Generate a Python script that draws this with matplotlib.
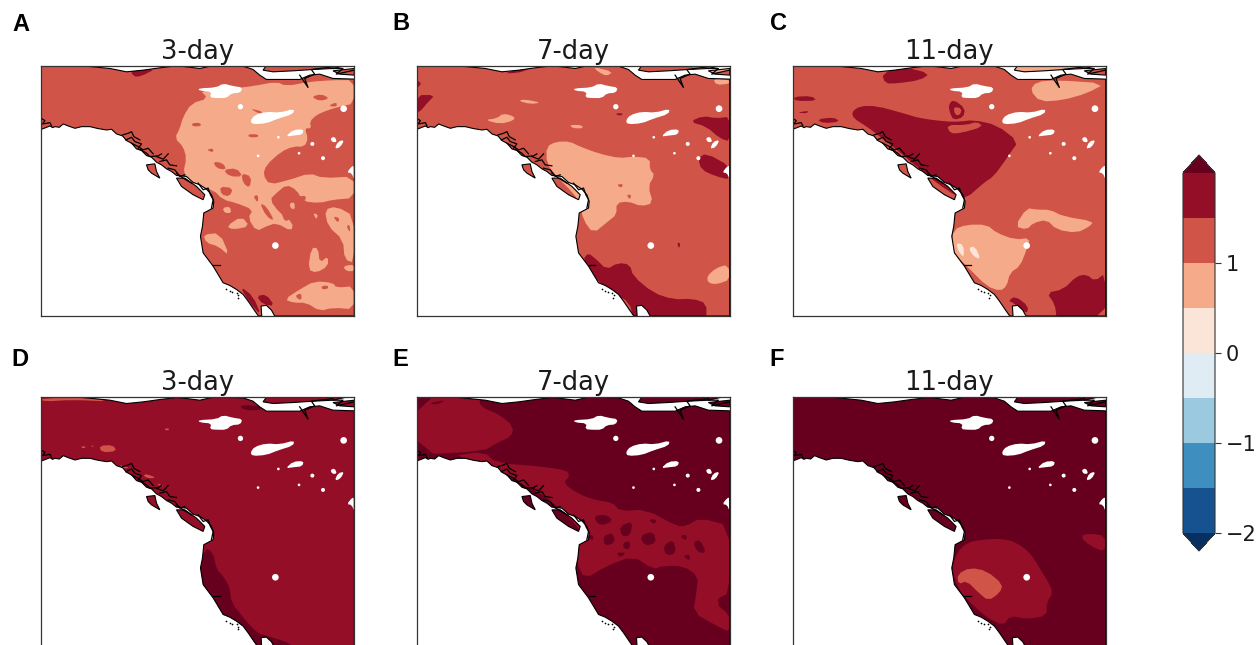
import numpy as np
import matplotlib
matplotlib.use("Agg")
import matplotlib.pyplot as plt
from matplotlib.colors import ListedColormap, BoundaryNorm, Normalize
from matplotlib.cm import ScalarMappable
from matplotlib.path import Path
from matplotlib.patches import PathPatch

# ---------- data (map coordinates) ----------
LEVELS = [-2, -1.5, -1, -0.5, 0, 0.5, 1, 1.5, 2]
CBAR_TICKS = [-2, -1, 0, 1]
TITLES = ["3-day", "7-day", "11-day", "3-day", "7-day", "11-day"]
LETTERS = ["A", "B", "C", "D", "E", "F"]

LAND = [(124,196),(124,388),(135,384),(150,378),(158,383),(165,380),(178,382),(190,372),(205,378),(225,385),(245,380),(270,380),
        (295,386),(320,390),(335,388),(350,402),(368,408),(380,422),(395,430),(410,447),(425,452),(440,467),(455,472),(470,487),(485,495),(500,507),
        (515,515),(530,527),(560,530),(580,548),(600,555),(620,568),(635,585),(642,605),
        (640,625),(612,640),(608,680),(602,710),(610,760),(625,780),(640,800),(655,825),(670,850),(690,858),(710,870),(730,885),(745,905),(762,930),
        (776,950),(786,950),(784,920),(800,918),(815,932),(825,950),(1064,950),(1064,237),(1000,235),(960,222),
        (930,225),(900,238),(800,238),(780,225),(760,208),(730,198),(640,196),(600,205),(560,200),(530,197),
        (480,203),(430,210),(380,215),(330,205),(280,200),(240,196)]
ARCTIC_ISLAND = [(800,196),(1040,196),(1000,205),(940,208),(880,212),(820,215),(790,210)]
NE_ISLAND = [(1000,212),(1064,205),(1064,225),(1020,222)]
HAIDA = [(440,495),(465,492),(470,515),(480,535),(455,520),(445,510)]
VANCOUVER = [(530,535),(555,535),(590,560),(615,585),(610,600),(580,585),(545,560)]
COAST_STROKES = [
    [(368,405),(385,400),(395,395),(402,410),(420,420)],
    [(378,420),(395,412),(405,425),(425,432),(415,445)],
    [(395,430),(415,440),(430,450),(445,445),(460,462)],
    [(420,448),(440,460),(450,470),(475,468),(485,462)],
    [(470,470),(490,478),(505,462)],
    [(480,485),(500,480),(510,495),(530,498)],
    [(505,505),(525,510),(540,530),(555,525)],
    [(530,520),(550,535),(575,550)],
    [(595,550),(610,570),(625,565),(632,585),(640,600),(635,625)],
    [(124,355),(135,362),(128,372),(150,368),(155,378)],
    [(900,225),(925,262),(915,235),(945,222),(935,208),(1000,200)],
    [(1000,205),(1030,205),(1010,222),(1064,210)],
    [(640,795),(660,795)],
]
CHANNEL_ISLANDS_X = [680,690,698,712,716,714]
CHANNEL_ISLANDS_Y = [870,875,878,880,888,895]

LAKES = [
    [(595,265),(650,262),(670,250),(700,258),(728,262),(722,278),(695,280),(680,294),(650,294),(630,292),(635,275),(600,272)],
    [(752,362),(765,345),(800,335),(840,338),(884,326),(880,342),(835,356),(800,370),(758,373)],
    [(858,410),(880,390),(912,388),(908,404),(880,407)],
    [(1005,447),(1015,425),(1034,420),(1022,442)],
    [(992,415),(1005,410),(1012,426),(998,427)],
    [(1042,518),(1056,500),(1064,498),(1064,540),(1056,520)],
]
SPOTS_X = [722,1032,827,938,970,898,775,836]
SPOTS_Y = [320,326,738,432,475,460,468,412]
SPOTS_R = [8,10,10,6,6,4,4,4]

PANEL_A = (1.25, [
    (0.75, [(600,270),(700,265),(760,258),(830,245),(860,258),(930,245),(1000,240),(1064,240),(1064,310),(1020,320),
            (985,330),(950,345),(930,365),(935,385),(915,385),(925,415),(915,440),(880,440),(845,455),(800,495),
            (790,525),(810,555),(870,540),(930,520),(970,535),(1064,530),(1064,595),(1000,600),(960,610),(910,605),
            (890,570),(860,555),(830,580),(810,600),(840,640),(880,670),(875,695),(830,670),(800,680),(770,695),
            (745,655),(760,630),(710,610),(670,600),(640,570),(575,555),(550,520),(560,475),(550,440),(525,415),
            (540,385),(550,350),(575,310),(625,295)]),
    (0.75, [(975,630),(1010,620),(1064,650),(1064,790),(1035,780),(1030,720),(985,680)]),
    (0.75, [(935,745),(955,745),(960,790),(985,770),(985,800),(950,820),(925,810)]),
    (0.75, [(855,900),(900,870),(945,845),(1000,850),(1010,865),(1064,860),(1064,930),(1000,925),(960,935),(920,910),(880,910)]),
    (0.75, [(610,705),(660,700),(690,770),(655,740),(620,730)]),
    (0.75, [(680,680),(725,650),(750,680),(700,690)]),
    (0.75, [(668,625),(690,620),(695,640),(675,640)]),
    (1.25, [(745,403),(775,403),(775,412),(748,412)]),
    (1.25, [(935,290),(965,282),(990,295),(960,303)]),
    (1.25, [(985,318),(1010,306),(1012,320)]),
    (1.25, [(750,325),(790,335),(780,342)]),
    (1.25, [(640,485),(670,490),(680,510),(650,505)]),
    (1.25, [(670,510),(710,505),(730,530),(690,530)]),
    (1.25, [(725,520),(755,530),(750,565),(730,550)]),
    (1.25, [(660,560),(700,565),(690,590),(665,585)]),
    (1.25, [(780,610),(800,620),(825,665),(800,650)]),
    (1.25, [(845,640),(860,630),(870,660),(855,665)]),
    (1.25, [(760,590),(775,585),(775,610)]),
    (1.25, [(895,590),(920,588),(915,605),(895,605)]),
    (1.25, [(575,370),(600,368),(605,378),(580,380)]),
    (1.25, [(620,450),(640,445),(640,458)]),
    (1.25, [(1000,650),(1020,655),(1015,670)]),
    (1.25, [(1040,680),(1050,675),(1052,700)]),
    (1.25, [(885,890),(905,880),(905,905)]),
    (1.25, [(965,860),(985,858),(985,868),(968,870)]),
    (0.75, [(900,575),(925,575),(925,582)]),
    (0.75, [(870,610),(885,608),(885,630),(872,625)]),
    (0.75, [(1030,800),(1064,795),(1064,815),(1040,815)]),
    (0.75, [(940,640),(955,645),(950,660)]),
    (1.75, [(390,205),(470,205),(420,230),(400,228)]),
    (1.75, [(770,890),(800,885),(825,920),(790,915)]),
    (1.75, [(720,860),(760,890),(785,950),(750,910)]),
])
PANEL_B = (1.25, [
    (0.75, [(440,350),(470,335),(510,335),(540,350),(600,372),(660,385),(700,380),(750,385),(750,420),(765,435),
            (745,470),(760,520),(725,530),(685,515),(650,520),(650,555),(625,575),(580,612),(550,570),(540,520),
            (520,490),(470,440),(440,400)]),
    (0.75, [(580,110),(640,125),(620,138),(595,125)]),
    (0.75, [(850,112),(992,112),(992,125),(900,130)]),
    (0.75, [(940,145),(992,150),(992,160),(950,165)]),
    (0.75, [(255,270),(290,265),(310,250),(345,260),(340,272),(300,282)]),
    (0.75, [(355,212),(375,208),(425,218),(390,222)]),
    (0.75, [(508,285),(545,285),(550,295),(520,295)]),
    (0.75, [(922,740),(950,715),(985,705),(992,750),(950,765),(925,760)]),
    (1.25, [(650,465),(670,462),(665,475)]),
    (1.25, [(680,495),(695,495),(690,510)]),
    (1.75, [(50,195),(105,195),(85,215),(60,245),(50,245)]),
    (1.75, [(50,150),(65,160),(50,175)]),
    (1.75, [(870,275),(910,258),(950,265),(992,260),(992,335),(960,325),(920,290)]),
    (1.75, [(895,385),(920,370),(992,410),(992,450),(950,440),(905,420)]),
    (1.75, [(565,670),(590,690),(620,720),(655,700),(690,705),(700,740),(760,790),(820,810),(880,808),(920,822),
            (920,870),(750,870),(700,870),(690,820),(640,790),(600,760),(565,720),(550,690)]),
    (1.75, [(315,128),(400,108),(370,125),(330,130)]),
    (1.75, [(645,250),(672,250),(660,258)]),
    (1.75, [(832,640),(842,640),(838,658)]),
])
PANEL_C = (1.25, [
    (1.75, [(245,245),(270,228),(320,228),(400,250),(450,265),(530,275),(570,275),(610,270),(680,285),(745,335),
            (720,370),(700,400),(670,440),(640,460),(590,505),(560,500),(500,460),(440,410),(380,360),(330,320),
            (290,290),(250,265)]),
    (1.25, [(530,285),(590,285),(620,275),(640,290),(570,310),(540,310)]),
    (1.75, [(335,130),(400,110),(480,130),(450,150),(380,160),(345,160)]),
    (1.75, [(70,200),(125,198),(140,212),(75,213)]),
    (1.75, [(80,248),(115,242),(110,250)]),
    (1.75, [(140,268),(190,262),(210,275),(160,280)]),
    (1.75, [(535,225),(550,208),(585,235),(580,262),(550,270),(540,250)]),
    (1.25, [(550,230),(575,235),(570,255),(555,255)]),
    (0.75, [(780,180),(800,155),(860,150),(1007,160),(950,190),(880,210),(810,215)]),
    (0.75, [(690,105),(940,105),(900,128),(760,128)]),
    (0.75, [(735,590),(770,535),(800,540),(840,540),(880,560),(970,575),(960,590),(920,610),(860,600),(830,570),(790,580),(770,600)]),
    (0.75, [(550,600),(590,585),(650,585),(680,610),(735,630),(780,625),(770,660),(750,710),(720,730),(710,770),
            (690,785),(650,770),(600,720),(560,680),(545,650)]),
    (0.25, [(558,640),(580,645),(582,685),(565,665)]),
    (0.25, [(595,655),(615,650),(632,690),(610,680)]),
    (1.75, [(830,790),(880,780),(920,740),(950,735),(975,755),(1007,730),(1007,870),(860,870),(855,825)]),
    (1.75, [(715,815),(735,800),(775,830),(770,855),(730,820)]),
])
PANEL_D = (1.75, [
    (2.25, [(615,625),(640,640),(650,690),(670,710),(690,745),(695,790),(730,835),(770,880),(800,890),(880,915),
            (870,940),(760,930),(720,880),(680,850),(640,790),(610,750),(600,700)]),
    (2.25, [(720,195),(790,200),(780,212),(730,210)]),
    (1.25, [(124,175),(270,174),(330,185),(220,180),(130,185)]),
    (1.25, [(298,318),(340,316),(350,335),(305,338)]),
    (1.25, [(245,320),(256,320),(256,325),(245,325)]),
    (1.25, [(272,318),(282,318),(280,322)]),
    (1.25, [(495,266),(508,266),(506,272),(496,271)]),
    (1.25, [(355,375),(390,385),(370,386)]),
    (1.25, [(440,403),(470,415),(445,416),(430,408)]),
    (1.25, [(470,430),(495,440),(480,440)]),
])
PANEL_E = (2.25, [
    (1.75, [(50,172),(240,172),(240,200),(300,225),(340,260),(335,290),(290,310),(250,335),(50,345)]),
    (2.25, [(85,190),(140,180),(110,195)]),
    (1.75, [(150,350),(250,335),(290,370),(420,380),(500,392),(510,410),(490,430),(530,460),(580,480),(640,490),
            (660,515),(740,510),(830,560),(860,560),(900,535),(992,560),(992,760),(945,790),(992,830),(992,880),
            (950,860),(880,820),(890,760),(895,710),(850,680),(790,680),(760,690),(700,650),(620,680),(555,720),
            (530,670),(535,600),(540,560),(400,440)]),
    (2.25, [(580,530),(620,525),(640,545),(600,560)]),
    (2.25, [(660,560),(700,545),(690,590),(665,590)]),
    (2.25, [(720,590),(760,575),(770,610),(735,620)]),
    (2.25, [(610,590),(640,580),(645,610),(615,620)]),
    (2.25, [(790,620),(820,600),(830,640),(800,650)]),
    (2.25, [(950,780),(992,760),(992,795),(965,795)]),
    (2.25, [(560,590),(580,585),(580,605)]),
    (2.25, [(670,610),(690,605),(690,630),(672,628)]),
    (2.25, [(650,640),(680,640),(660,655)]),
    (2.25, [(840,590),(860,585),(860,605)]),
    (2.25, [(880,610),(900,600),(920,640),(895,640)]),
    (2.25, [(745,540),(770,540),(765,555)]),
    (2.25, [(850,650),(870,645),(870,665)]),
])
PANEL_F = (2.25, [
    (1.75, [(560,640),(590,610),(640,600),(700,598),(740,610),(780,640),(805,680),(830,720),(850,760),(830,790),
            (830,830),(770,840),(720,830),(700,860),(650,835),(600,790),(565,750),(545,690)]),
    (1.75, [(930,590),(960,582),(1007,590),(1007,638),(960,620)]),
    (1.25, [(562,705),(600,685),(650,695),(698,735),(690,760),(655,785),(625,760),(590,725),(565,735)]),
])
PANELS = [PANEL_A, PANEL_B, PANEL_C, PANEL_D, PANEL_E, PANEL_F]

# origin of each panel in the coordinates used above
ORIGINS = [(124,196),(50,106),(67,106),(124,172),(50,172),(67,172)]
GEO_ORIGIN = (124,196)
MAP_W, MAP_H = 940, 754

# ---------- figure ----------
W, H = 1256, 645
fig = plt.figure(figsize=(W/100, H/100), dpi=100)
PX_LEFT = [41.3, 416.7, 792.6, 41.3, 416.7, 792.6]
PX_TOP = [65.5, 65.5, 65.5, 397.2, 397.2, 397.2]
PX_W, PX_H = 313.0, 250.5
LETTER_XY = [(12,31),(392,30),(770,30),(11,366),(392,366),(769,366)]

base_cmap = plt.get_cmap("RdBu_r")
cnorm = Normalize(-2, 2)
def color(level):
    return base_cmap(cnorm(level))

def smooth(pts, n=1):
    p = np.asarray(pts, float)
    for _ in range(n):
        q = np.roll(p, -1, axis=0)
        p = np.column_stack([0.75*p + 0.25*q, 0.25*p + 0.75*q]).reshape(-1, 2)
    return p

def shift(pts, o):
    return np.asarray(pts, float) - np.asarray(o, float)

def closed_path(p):
    p = np.vstack([p, p[:1]])
    codes = [Path.MOVETO] + [Path.LINETO]*(len(p)-2) + [Path.CLOSEPOLY]
    return Path(p, codes)

land_path = Path.make_compound_path(*[closed_path(shift(s, GEO_ORIGIN)) for s in (LAND, ARCTIC_ISLAND, NE_ISLAND, HAIDA, VANCOUVER)])

for i, (base, regions) in enumerate(PANELS):
    ax = fig.add_axes([PX_LEFT[i]/W, 1-(PX_TOP[i]+PX_H)/H, PX_W/W, PX_H/H])
    ax.set_xlim(0, MAP_W)
    ax.set_ylim(MAP_H, 0)
    ax.set_xticks([]); ax.set_yticks([])
    for s in ax.spines.values():
        s.set_linewidth(0.9); s.set_color("#333333"); s.set_zorder(10)
    patch = PathPatch(land_path, facecolor=color(base), edgecolor="none", zorder=1)
    ax.add_patch(patch)
    for level, pts in regions:
        for poly in ax.fill(*smooth(shift(pts, ORIGINS[i])).T, color=color(level), lw=0, zorder=2):
            poly.set_clip_path(patch)
    for lake in LAKES:
        ax.fill(*smooth(shift(lake, GEO_ORIGIN)).T, color="white", lw=0, zorder=3)
    diam_pt = 2*np.array(SPOTS_R)/3*0.72
    ax.scatter(np.array(SPOTS_X)-GEO_ORIGIN[0], np.array(SPOTS_Y)-GEO_ORIGIN[1],
               s=diam_pt**2, color="white", lw=0, zorder=3)
    ax.add_patch(PathPatch(land_path, facecolor="none", edgecolor="black", lw=0.8, zorder=4))
    for stroke in COAST_STROKES:
        st = shift(stroke, GEO_ORIGIN)
        ax.plot(st[:,0], st[:,1], color="black", lw=0.9, zorder=4)
    ax.scatter(np.array(CHANNEL_ISLANDS_X)-GEO_ORIGIN[0], np.array(CHANNEL_ISLANDS_Y)-GEO_ORIGIN[1],
               s=1.5, color="black", lw=0, zorder=4)
    ax.set_title(TITLES[i], fontsize=18.5, pad=5, color="#1a1a1a")
    lx, ly = LETTER_XY[i]
    fig.text(lx/W, 1-ly/H, LETTERS[i], fontsize=17, fontweight="bold",
             family="Liberation Sans", va="baseline", ha="left")

# ---------- colour bar ----------
mids = (np.array(LEVELS[:-1]) + np.array(LEVELS[1:]))/2
cmap = ListedColormap([color(m) for m in mids])
cmap.set_under(base_cmap(0.0))
cmap.set_over(base_cmap(1.0))
norm = BoundaryNorm(LEVELS, len(mids))
cax = fig.add_axes([1183/W, 1-551/H, 32/W, 396/H])
cb = fig.colorbar(ScalarMappable(norm=norm, cmap=cmap), cax=cax, extend="both",
                  ticks=CBAR_TICKS, spacing="uniform")
cb.ax.minorticks_off()
cb.ax.tick_params(labelsize=15, length=4, width=0.8, color="#333333", labelcolor="#1a1a1a")
cb.outline.set_linewidth(0.8)
cb.outline.set_edgecolor("#333333")

fig.savefig("out.png", dpi=100)
